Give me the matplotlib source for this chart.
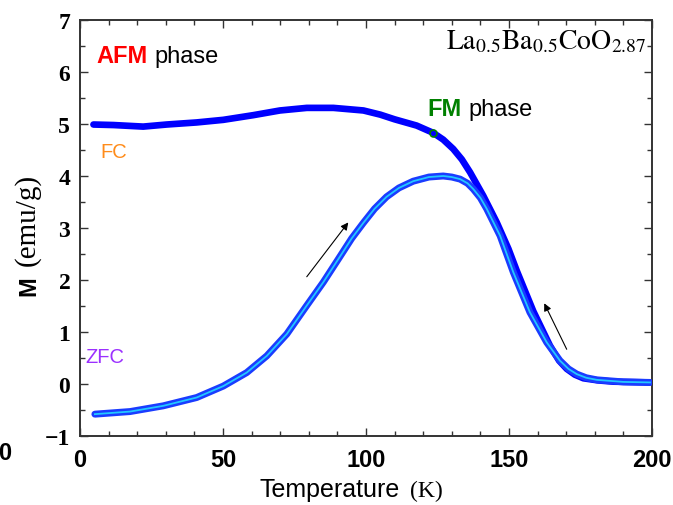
import matplotlib
matplotlib.use("Agg")
import matplotlib.pyplot as plt
from matplotlib.ticker import MultipleLocator

# magnetization curves, La0.5Ba0.5CoO2.87
t_fc = [4.7, 11.7, 22.1, 30.3, 40.8, 50.1, 60.6, 69.9, 79.3, 88.6, 99.1,
        105, 110, 117.7, 123.5, 127, 130.5, 133.5, 136.4, 141, 145.7, 149.8,
        152.7, 158.5, 164.3, 167.5, 170.2, 173, 176, 181, 186.5, 199.3]
m_fc = [4.99, 4.98, 4.95, 4.99, 5.03, 5.08, 5.17, 5.26, 5.31, 5.31, 5.26,
        5.18, 5.09, 4.97, 4.83, 4.7, 4.52, 4.32, 4.07, 3.62, 3.11, 2.6,
        2.18, 1.4, 0.74, 0.45, 0.29, 0.18, 0.11, 0.07, 0.045, 0.03]

t_zfc = [5.2, 17.5, 29.1, 40.8, 50.1, 58.3, 65.3, 72.3, 79.3, 85.1, 90.3,
         95, 99.1, 103, 107.2, 111.5, 116.5, 122, 127, 130, 132.9, 135.5,
         137.5, 140, 142.2, 146.9, 151.5, 157.3, 163.2, 167.8, 170.8, 173.7,
         177, 180.7, 190, 199.3]
m_zfc = [-0.58, -0.53, -0.42, -0.26, -0.04, 0.22, 0.54, 0.96, 1.51, 1.96, 2.4,
         2.8, 3.1, 3.37, 3.6, 3.77, 3.9, 3.98, 4.0, 3.98, 3.94, 3.86,
         3.75, 3.58, 3.37, 2.85, 2.15, 1.38, 0.8, 0.45, 0.29, 0.19,
         0.12, 0.08, 0.04, 0.03]

sans = "Liberation Sans"
serif = "Liberation Serif"
plt.rcParams["mathtext.fontset"] = "stix"

fig = plt.figure(figsize=(6.73, 5.06), dpi=100)
ax = fig.add_axes([80 / 673, 1 - 437 / 506, 572 / 673, 416 / 506])

ax.plot(t_fc, m_fc, color="#0000ff", lw=4.8, solid_capstyle="round",
        solid_joinstyle="round", zorder=2)
ax.plot(t_zfc, m_zfc, color="#1a3cff", lw=5.0, solid_capstyle="round",
        solid_joinstyle="round", zorder=3)
ax.plot(t_zfc, m_zfc, color="#22c8ff", lw=1.3, solid_joinstyle="round",
        zorder=4)
ax.plot([123.5], [4.83], "o", mfc="none", mec="green", ms=5, mew=1.2, zorder=5)

ax.annotate("", xy=(94.4, 3.15), xytext=(78.7, 2.02),
            arrowprops=dict(arrowstyle="-|>", color="black", lw=0.8,
                            mutation_scale=11))
ax.annotate("", xy=(161.9, 1.6), xytext=(170.6, 0.62),
            arrowprops=dict(arrowstyle="-|>", color="black", lw=0.8,
                            mutation_scale=11))

ax.set_xlim(0, 200)
ax.set_ylim(-1, 7)
ax.xaxis.set_major_locator(MultipleLocator(50))
ax.xaxis.set_minor_locator(MultipleLocator(10))
ax.yaxis.set_major_locator(MultipleLocator(1))
ax.yaxis.set_minor_locator(MultipleLocator(0.5))
ax.tick_params(which="both", direction="in", top=True, right=True,
               color="#333333", width=1.0)
ax.tick_params(which="major", length=6)
ax.tick_params(which="minor", length=3.5)
ax.tick_params(axis="x", pad=9)
ax.tick_params(axis="y", pad=7)
for s in ax.spines.values():
    s.set_linewidth(1.4)
    s.set_color("#333333")

for lab in ax.get_xticklabels():
    lab.set_fontfamily(sans)
    lab.set_fontweight("bold")
    lab.set_fontsize(17)
for lab in ax.get_yticklabels():
    lab.set_fontfamily(serif)
    lab.set_fontweight("bold")
    lab.set_fontsize(17)

# annotations inside the axes
ax.text(5.9, 6.31, "AFM", color="red", fontsize=17, fontweight="bold",
        family=sans, va="center")
ax.text(26.2, 6.31, "phase", color="black", fontsize=17, family=sans,
        va="center")
ax.text(121.3, 5.29, "FM", color="green", fontsize=17, fontweight="bold",
        family=sans, va="center")
ax.text(135.7, 5.29, "phase", color="black", fontsize=17, family=sans,
        va="center")
ax.text(7.0, 4.47, "FC", color="#ff8c1a", fontsize=14.5, family=sans,
        va="center")
ax.text(1.75, 0.52, "ZFC", color="#9b30ff", fontsize=14.5, family=sans,
        va="center")
ax.text(197.8, 6.62, r"$\mathrm{La_{0.5}Ba_{0.5}CoO_{2.87}}$", fontsize=20,
        ha="right", va="center")

# axis labels, mixed fonts
fig.text(260 / 673, 1 - 490 / 506, "Temperature", family=sans, fontsize=18,
         va="center", ha="left")
fig.text(410 / 673, 1 - 491 / 506, "(K)", family=serif, fontsize=17,
         va="center", ha="left")
fig.text(29 / 673, 1 - 286 / 506, "M", family=sans, fontweight="bold",
         fontsize=17, rotation=90, va="center", ha="center")
fig.text(27 / 673, 1 - 220 / 506, "(emu/g)", family=serif, fontsize=21,
         rotation=90, va="center", ha="center")

# edge of a neighbouring tick label
fig.text(11 / 673, 1 - 453 / 506, "0", family=sans, fontweight="bold",
         fontsize=17, ha="right", va="center")

fig.savefig("out.png", dpi=100)
